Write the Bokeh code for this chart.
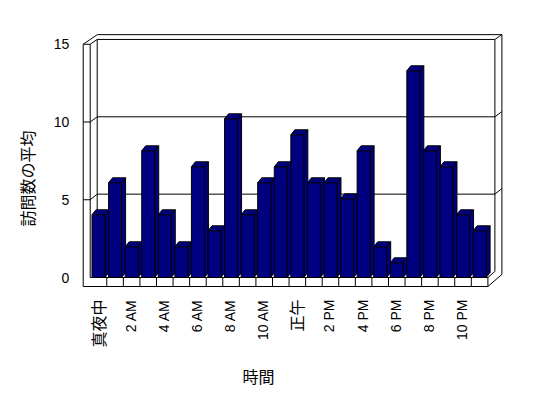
import math
from bokeh.plotting import figure
from bokeh.models import Range1d
from bokeh.embed import file_html
from bokeh.resources import INLINE
from bokeh.core.properties import value

# ---------------- data ----------------
hours = list(range(24))
visits = [4, 6, 2, 8, 4, 2, 7, 3, 10, 4, 6, 7, 9, 6, 6, 5, 8, 2, 1, 13, 8, 7, 4, 3]
x_tick_positions = [0, 2, 4, 6, 8, 10, 12, 14, 16, 18, 20, 22]
x_tick_labels = ["真夜中", "2 AM", "4 AM", "6 AM", "8 AM", "10 AM",
                 "正午", "2 PM", "4 PM", "6 PM", "8 PM", "10 PM"]
y_ticks = [0, 5, 10, 15]
y_tick_labels = ["0", "5", "10", "15"]
x_title = "時間"
y_title = "訪問数の平均"

# ---------------- projection / layout ----------------
W, H = 540, 390
OFF = 0.0                 # page offset of the canvas
SX, X0 = 16.57, 98.0      # px per category, page x of category 0
SY, Y0 = 16.0, 278.3      # px per value unit, page y of value 0 (bars)
DX, DY = 7.0, 6.0         # oblique depth offset per depth unit (px)
FY0, FS, FSD = 277.0, 15.55, 0.08   # wall projection
n = len(hours)
ymax = y_ticks[-1]
c_li = -0.5
c_lo = -0.5 - 7.0 / SX
c_r = n - 0.5
v_floor = -9.0 / FS


def to_data(px, py):
    return ((px - X0) / SX, (Y0 - py) / SY)


def P(c, v, d):
    px = X0 + SX * c + DX * d
    py = FY0 - DY * d - (FS - FSD * d) * v
    return to_data(px, py)


def seg(*pts):
    return [q[0] for q in pts], [q[1] for q in pts]


p = figure(width=W, height=H, output_backend="svg", toolbar_location=None,
           x_range=Range1d((OFF - X0) / SX, (OFF + W - X0) / SX),
           y_range=Range1d((Y0 - (OFF + H)) / SY, (Y0 - OFF) / SY),
           min_border=0, x_axis_location=None, y_axis_location=None)
p.grid.visible = False
p.outline_line_color = None
p.background_fill_color = "white"
p.border_fill_color = "white"

# outer silhouette of the box
sil = [P(c_lo, ymax, 0), P(c_lo, ymax, 2), P(c_r, ymax, 2), P(c_r, v_floor, 2),
       P(c_r, v_floor, 0), P(c_lo, v_floor, 0)]
sx, sy = seg(*sil)
p.patch(sx, sy, fill_color="white", line_color="black", line_width=1)

lines_x, lines_y = [], []


def add(*pts):
    a, b = seg(*pts)
    lines_x.append(a)
    lines_y.append(b)


# back wall inner face edges + thickness
add(P(c_li, ymax, 1), P(c_r, ymax, 1), P(c_r, 0, 1), P(c_r, 0, 0))
add(P(c_r, ymax, 1), P(c_r, ymax, 2))
# left wall
add(P(c_lo, ymax, 0), P(c_li, ymax, 0), P(c_li, ymax, 1))
add(P(c_li, ymax, 0), P(c_li, 0, 0))
add(P(c_li, ymax, 1), P(c_li, 0, 1))
# gridlines
for v in y_ticks[1:-1]:
    add(P(c_lo, v, 0), P(c_li, v, 0), P(c_li, v, 1), P(c_r, v, 1), P(c_r, v, 2))
p.multi_line(lines_x, lines_y, line_color="black", line_width=1)

# bars
bw = 13.0 / SX
ox, oy = 4.0 / SX, 5.0 / SY
ybot = (Y0 - FY0) / SY
bx, by = [], []
for i, v in zip(hours, visits):
    xl, xr = i - bw / 2, i + bw / 2
    bx.append([xr, xr, xr + ox, xr + ox]); by.append([ybot, v, v + oy, ybot + oy])
    bx.append([xl, xr, xr + ox, xl + ox]); by.append([v, v, v + oy, v + oy])
    bx.append([xl, xr, xr, xl]); by.append([ybot, ybot, v, v])
p.patches(bx, by, fill_color="#000080", line_color="black", line_width=1)

# floor front band
fx, fy = [], []
a, b = seg(P(c_li, 0, 0), P(c_r, 0, 0), P(c_r, v_floor, 0))
fx.append(a); fy.append(b)
for k in range(1, n):
    a, b = seg(P(k - 0.5, 0, 0), P(k - 0.5, v_floor, 0))
    fx.append(a); fy.append(b)
p.multi_line(fx, fy, line_color="black", line_width=1)

# y tick labels
ylx, yly = [], []
for v in y_ticks:
    q = P(c_lo, v, 0)
    ylx.append(q[0] - 14.0 / SX)
    yly.append(q[1])
p.text(x=ylx, y=yly, text=y_tick_labels, text_align="right", text_baseline="middle",
       text_font=value("Liberation Sans"), text_font_size="14px", text_color="black")

# x tick labels
ytop = (Y0 - 299.0) / SY
asc_x = [c - 1.0 / SX for c, t in zip(x_tick_positions, x_tick_labels) if t.isascii()]
asc_t = [t for t in x_tick_labels if t.isascii()]
cjk_x = [c - 1.0 / SX for c, t in zip(x_tick_positions, x_tick_labels) if not t.isascii()]
cjk_t = [t for t in x_tick_labels if not t.isascii()]
p.text(x=asc_x, y=[ytop] * len(asc_x), text=asc_t, angle=math.pi / 2,
       text_align="right", text_baseline="middle",
       text_font=value("Liberation Sans"), text_font_size="14px", text_color="black")
p.text(x=cjk_x, y=[ytop] * len(cjk_x), text=cjk_t, angle=math.pi / 2,
       text_align="right", text_baseline="middle",
       text_font=value("Noto Sans CJK JP"), text_font_size="16px", text_color="black")

# axis titles
tx, ty = to_data(258.0, 375.0)
p.text(x=[tx], y=[ty], text=[x_title], text_align="center", text_baseline="middle",
       text_font=value("Noto Sans CJK JP"), text_font_size="16px", text_color="black")
yx, yy = to_data(26.0, 178.0)
p.text(x=[yx], y=[yy], text=[y_title], angle=math.pi / 2, text_align="center",
       text_baseline="middle", text_font=value("Noto Sans CJK JP"),
       text_font_size="16px", text_color="black")

open("out.html", "w").write(file_html(p, INLINE))
